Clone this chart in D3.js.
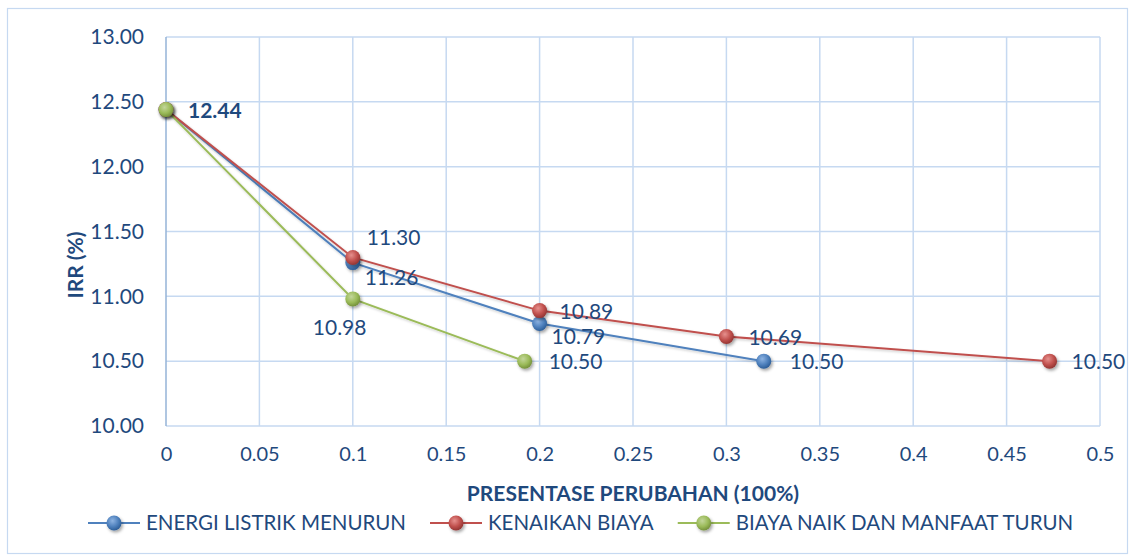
<!DOCTYPE html>
<html><head><meta charset="utf-8">
<script src="https://cdn.jsdelivr.net/npm/d3@7"></script>
<style>body{margin:0;background:#fff;}svg{display:block;font-family:Lato,"Open Sans",sans-serif;}</style>
</head><body><div id="c"></div>
<script>
const seriesNames = ["ENERGI LISTRIK MENURUN","KENAIKAN BIAYA","BIAYA NAIK DAN MANFAAT TURUN"];
const energiX = [0,0.1,0.2,0.32];
const energiY = [12.44,11.26,10.79,10.50];
const biayaX = [0,0.1,0.2,0.3,0.473];
const biayaY = [12.44,11.30,10.89,10.69,10.50];
const naikX = [0,0.1,0.192];
const naikY = [12.44,10.98,10.50];
const xTicks = [0,0.05,0.1,0.15,0.2,0.25,0.3,0.35,0.4,0.45,0.5];
const yTicks = [10,10.5,11,11.5,12,12.5,13];
const colors = ["#4F81BD","#C0504D","#9BBB59"];
const dark = ["#2E5F99","#943634","#76923C"];
const light = ["#8DB3E2","#E6908D","#C3D69B"];
// label offsets [dx,dy] per point (style only)
const labelPos = [
  [null,[12,22],[12,20],[26,8]],
  [[22,8],[14,-12],[20,8],[22,8],[22,8]],
  [null,[-40,36],[24,8]]
];
const W=1135,H=559;
const FF="Lato,'Open Sans',sans-serif";
const svg=d3.select("#c").append("svg").attr("width",W).attr("height",H);
const defs=svg.append("defs");
colors.forEach((c,i)=>{
  const g=defs.append("radialGradient").attr("id","g"+i).attr("cx","40%").attr("cy","35%").attr("r","65%");
  g.append("stop").attr("offset","0%").attr("stop-color",light[i]);
  g.append("stop").attr("offset","60%").attr("stop-color",c);
  g.append("stop").attr("offset","100%").attr("stop-color",dark[i]);
});
const f=defs.append("filter").attr("id","sh").attr("x","-50%").attr("y","-50%").attr("width","200%").attr("height","200%");
f.append("feDropShadow").attr("dx",1.5).attr("dy",2).attr("stdDeviation",1.5).attr("flood-color","#000").attr("flood-opacity",0.35);
const lf=defs.append("filter").attr("id","lsh").attr("x","-5%").attr("y","-20%").attr("width","110%").attr("height","140%");
lf.append("feDropShadow").attr("dx",1).attr("dy",1.5).attr("stdDeviation",1).attr("flood-color","#000").attr("flood-opacity",0.2);

svg.append("rect").attr("x",7.5).attr("y",8.5).attr("width",1120).attr("height",545).attr("fill","none").attr("stroke","#C6D9F1").attr("stroke-width",1.2);

const x=d3.scaleLinear().domain([0,0.5]).range([166,1100]);
const y=d3.scaleLinear().domain([10,13]).range([426,37]);
const txt="#1F497D";
// grid
svg.append("g").selectAll("line").data(xTicks.slice(1)).join("line")
  .attr("x1",d=>x(d)).attr("x2",d=>x(d)).attr("y1",y(13)).attr("y2",y(10)).attr("stroke","#C6D9F1").attr("stroke-width",1.5);
svg.append("g").selectAll("line").data(yTicks).join("line")
  .attr("x1",x(0)).attr("x2",x(0.5)).attr("y1",d=>y(d)).attr("y2",d=>y(d)).attr("stroke","#C6D9F1").attr("stroke-width",1.5);
svg.append("line").attr("x1",x(0)).attr("x2",x(0)).attr("y1",y(13)).attr("y2",y(10)).attr("stroke","#95B3D7").attr("stroke-width",1.5);
// axes via d3 axis
const xa=svg.append("g").attr("transform",`translate(0,${y(10)})`).call(d3.axisBottom(x).tickValues(xTicks).tickFormat(d=>d3.format("")(+d.toFixed(2))).tickSize(0).tickPadding(21));
xa.select(".domain").remove();
xa.selectAll("text").attr("font-size",20).attr("fill",txt).attr("font-family",FF);
const ya=svg.append("g").attr("transform",`translate(${x(0)},0)`).call(d3.axisLeft(y).tickValues(yTicks).tickFormat(d3.format(".2f")).tickSize(0).tickPadding(22));
ya.select(".domain").remove();
ya.selectAll("text").attr("font-size",21).attr("fill",txt).attr("font-family",FF);
// titles
svg.append("text").attr("transform","translate(83,265) rotate(-90)").attr("text-anchor","middle").attr("font-weight","bold").attr("font-size",21).attr("fill",txt).text("IRR (%)");
svg.append("text").attr("x",633).attr("y",501).attr("text-anchor","middle").attr("font-weight","bold").attr("font-size",21).attr("fill",txt).text("PRESENTASE PERUBAHAN (100%)");

const series=[[energiX,energiY],[biayaX,biayaY],[naikX,naikY]];
const line=d3.line().x(d=>x(d[0])).y(d=>y(d[1]));
series.forEach(([xs,ys],i)=>{
  const pts=xs.map((v,j)=>[v,ys[j]]);
  svg.append("path").datum(pts).attr("d",line).attr("fill","none").attr("stroke",colors[i]).attr("stroke-width",2).attr("filter","url(#lsh)");
});
series.forEach(([xs,ys],i)=>{
  const pts=xs.map((v,j)=>[v,ys[j]]);
  svg.append("g").selectAll("circle").data(pts).join("circle").attr("cx",d=>x(d[0])).attr("cy",d=>y(d[1])).attr("r",7.5)
    .attr("fill",`url(#g${i})`).attr("filter","url(#sh)");
});
series.forEach(([xs,ys],i)=>{
  xs.forEach((v,j)=>{
    const o=labelPos[i][j]; if(!o) return;
    svg.append("text").attr("x",x(v)+o[0]).attr("y",y(ys[j])+o[1]).attr("font-size",21).attr("fill",txt)
      .attr("font-weight",(j===0)?"bold":"normal").text(ys[j].toFixed(2));
  });
});
// legend
const lg=svg.append("g");
let cx=88;
seriesNames.forEach((n,i)=>{
  const g=lg.append("g").attr("transform",`translate(${cx},523)`);
  g.append("line").attr("x1",0).attr("x2",52).attr("stroke",colors[i]).attr("stroke-width",2);
  g.append("circle").attr("cx",26).attr("r",7.5).attr("fill",`url(#g${i})`).attr("filter","url(#sh)");
  const t=g.append("text").attr("x",58).attr("y",7).attr("font-size",20.5).attr("fill",txt).text(n);
  cx+=58+t.node().getComputedTextLength()+24;
});
</script></body></html>
